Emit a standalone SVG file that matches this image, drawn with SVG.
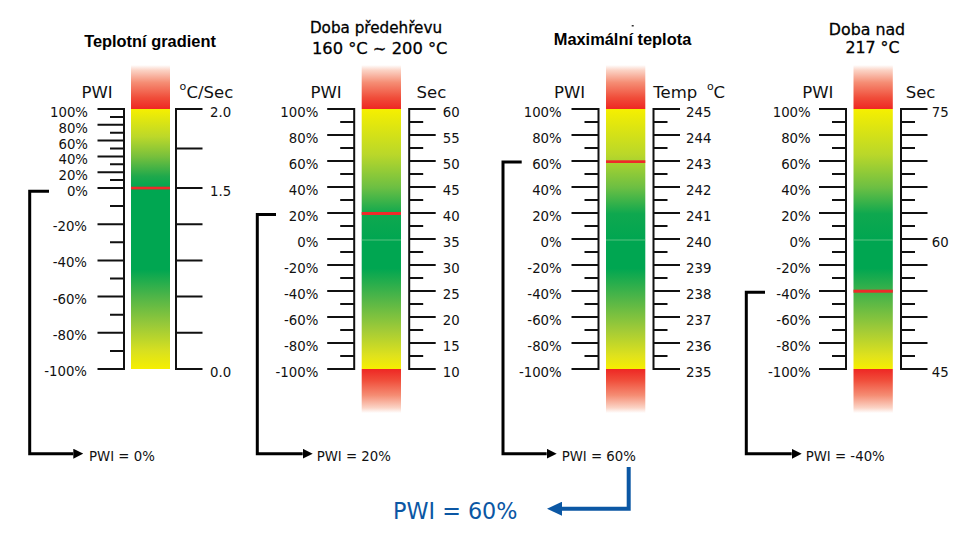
<svg xmlns="http://www.w3.org/2000/svg" xmlns:xlink="http://www.w3.org/1999/xlink" width="976" height="537" viewBox="0 0 976 537">
<style>
.ax{stroke:#111;stroke-width:2;fill:none;stroke-linecap:square}
.lab{font-family:"DejaVu Sans",sans-serif;font-size:13.3px;fill:#111}
.end{text-anchor:end}
.hd{font-family:"DejaVu Sans",sans-serif;font-size:16.5px;fill:#111}
.sup{font-family:"DejaVu Sans",sans-serif;font-size:11px;fill:#111}
.ttl{font-family:"Liberation Sans",Arial,sans-serif;font-weight:bold;font-size:16.4px;text-anchor:middle;fill:#000}
.ttl2{font-family:"DejaVu Sans",sans-serif;text-anchor:middle;fill:#000;stroke:#000;stroke-width:0.3}
.con{stroke:#000;stroke-width:3;fill:none}
.mk{fill:#ee2a2a}
.blue{font-family:"DejaVu Sans",sans-serif;font-size:22.3px;fill:#0b57a4}
</style>
<defs>
<linearGradient id="redTop" x1="0" y1="0" x2="0" y2="1">
<stop offset="0" stop-color="#ffffff"/>
<stop offset="0.12" stop-color="#fbd3c5"/>
<stop offset="0.4" stop-color="#f58d74"/>
<stop offset="0.75" stop-color="#f04c39"/>
<stop offset="1" stop-color="#ee2724"/>
</linearGradient>
<linearGradient id="redBot" x1="0" y1="0" x2="0" y2="1">
<stop offset="0" stop-color="#ee2724"/>
<stop offset="0.25" stop-color="#f04c39"/>
<stop offset="0.6" stop-color="#f58d74"/>
<stop offset="0.88" stop-color="#fbd3c5"/>
<stop offset="1" stop-color="#ffffff"/>
</linearGradient>
<linearGradient id="gTop" x1="0" y1="0" x2="0" y2="1">
<stop offset="0" stop-color="#f6ef00"/>
<stop offset="0.35" stop-color="#b9d72a"/>
<stop offset="0.6" stop-color="#6cbf43"/>
<stop offset="0.8" stop-color="#0fa84f"/>
<stop offset="1" stop-color="#00a651"/>
</linearGradient>
<linearGradient id="gBot" x1="0" y1="0" x2="0" y2="1">
<stop offset="0" stop-color="#00a651"/>
<stop offset="0.22" stop-color="#00a651"/>
<stop offset="0.45" stop-color="#4fb548"/>
<stop offset="0.7" stop-color="#a2cb37"/>
<stop offset="0.9" stop-color="#e0e21c"/>
<stop offset="1" stop-color="#f6ef00"/>
</linearGradient>
<linearGradient id="g1Top" x1="0" y1="0" x2="0" y2="1">
<stop offset="0" stop-color="#f6ef00"/>
<stop offset="0.35" stop-color="#bcd82a"/>
<stop offset="0.6" stop-color="#78c03c"/>
<stop offset="0.85" stop-color="#20a94c"/>
<stop offset="1" stop-color="#00a651"/>
</linearGradient>
<linearGradient id="g1Bot" x1="0" y1="0" x2="0" y2="1">
<stop offset="0" stop-color="#00a651"/>
<stop offset="0.45" stop-color="#00a651"/>
<stop offset="0.6" stop-color="#4fb548"/>
<stop offset="0.75" stop-color="#96c83a"/>
<stop offset="0.9" stop-color="#d8e020"/>
<stop offset="1" stop-color="#f6ef00"/>
</linearGradient>
<marker id="arrowK" viewBox="0 0 10 10" refX="0" refY="5" markerWidth="10" markerHeight="10" markerUnits="userSpaceOnUse" orient="auto">
<path d="M0 0L10 5L0 10z" fill="#000"/>
</marker>
<marker id="arrowB" viewBox="0 0 15 14" refX="0" refY="7" markerWidth="15" markerHeight="14" markerUnits="userSpaceOnUse" orient="auto">
<path d="M0 0L15 7L0 14z" fill="#0b57a4"/>
</marker>
<g id="gauge">
<rect x="0" y="65" width="39.3" height="44" fill="url(#redTop)"/>
<rect x="0" y="109" width="39.3" height="131" fill="url(#gTop)"/>
<rect x="0" y="240" width="39.3" height="129" fill="url(#gBot)"/>
<rect x="0" y="239.5" width="39.3" height="1" fill="#7ccf95" opacity="0.7"/>
<rect x="0" y="369" width="39.3" height="44" fill="url(#redBot)"/>
<path class="ax" d="M-7.5 109V369M-33.5 109H-7.5M-33.5 135H-7.5M-33.5 161H-7.5M-33.5 187H-7.5M-33.5 213H-7.5M-33.5 239H-7.5M-33.5 265H-7.5M-33.5 291H-7.5M-33.5 317H-7.5M-33.5 343H-7.5M-33.5 369H-7.5M-20.5 122H-7.5M-20.5 148H-7.5M-20.5 174H-7.5M-20.5 200H-7.5M-20.5 226H-7.5M-20.5 252H-7.5M-20.5 278H-7.5M-20.5 304H-7.5M-20.5 330H-7.5M-20.5 356H-7.5"/>
<path class="ax" d="M47.5 109V369M47.5 109H73M47.5 135H73M47.5 161H73M47.5 187H73M47.5 213H73M47.5 239H73M47.5 265H73M47.5 291H73M47.5 317H73M47.5 343H73M47.5 369H73M47.5 122H60.5M47.5 148H60.5M47.5 174H60.5M47.5 200H60.5M47.5 226H60.5M47.5 252H60.5M47.5 278H60.5M47.5 304H60.5M47.5 330H60.5M47.5 356H60.5"/>
</g>
<g id="pwiLabels" class="lab end">
<text x="0" y="117">100%</text>
<text x="0" y="143">80%</text>
<text x="0" y="169">60%</text>
<text x="0" y="195">40%</text>
<text x="0" y="221">20%</text>
<text x="0" y="247">0%</text>
<text x="0" y="273">-20%</text>
<text x="0" y="299">-40%</text>
<text x="0" y="325">-60%</text>
<text x="0" y="351">-80%</text>
<text x="0" y="377">-100%</text>
</g>
</defs>
<rect width="976" height="537" fill="#fff"/>

<g id="panel-gradient">
<text class="ttl" x="150" y="47">Teplotní gradient</text>
<text class="hd" x="81.5" y="98">PWI</text>
<text class="sup" x="179.5" y="90">o</text>
<text class="hd" x="186.5" y="98">C/Sec</text>
<rect x="131" y="65" width="39" height="44" fill="url(#redTop)"/>
<rect x="131" y="109" width="39" height="79" fill="url(#g1Top)"/>
<rect x="131" y="188" width="39" height="181" fill="url(#g1Bot)"/>
<rect class="mk" x="131" y="186.7" width="39" height="2.7"/>
<path class="ax" d="M124 109V369M98.5 109H124M98.5 124.8H124M98.5 140.6H124M98.5 156.4H124M98.5 172.2H124M98.5 188H124M98.5 224.2H124M98.5 260.4H124M98.5 296.6H124M98.5 332.8H124M98.5 369H124M111 116.9H124M111 132.7H124M111 148.5H124M111 164.3H124M111 180.1H124M111 206.1H124M111 242.3H124M111 278.5H124M111 314.7H124M111 350.9H124"/>
<path class="ax" d="M176 109V369M176 109H201.5M176 148.5H201.5M176 188H201.5M176 224.2H201.5M176 260.4H201.5M176 296.6H201.5M176 332.8H201.5M176 369H201.5"/>
<g class="lab end">
<text x="88" y="117">100%</text>
<text x="88" y="132.8">80%</text>
<text x="88" y="148.6">60%</text>
<text x="88" y="164.4">40%</text>
<text x="88" y="180.2">20%</text>
<text x="88" y="196">0%</text>
<text x="87" y="231.2">-20%</text>
<text x="87" y="267.4">-40%</text>
<text x="87" y="303.6">-60%</text>
<text x="87" y="339.8">-80%</text>
<text x="87" y="376">-100%</text>
</g>
<g class="lab">
<text x="210" y="117">2.0</text>
<text x="210" y="195.5">1.5</text>
<text x="210" y="376.5">0.0</text>
</g>
<text class="lab" x="89" y="461">PWI = 0%</text>
</g>

<g id="panel-predehrev">
<text class="ttl2" x="376" y="33" font-size="15.2">Doba předehřevu</text>
<text class="ttl2" x="379.7" y="54.3" font-size="16.3">160 °C ~ 200 °C</text>
<text class="hd" x="310.5" y="98">PWI</text>
<text class="hd" x="416.5" y="98">Sec</text>
<use href="#gauge" xlink:href="#gauge" x="361.7"/>
<rect class="mk" x="361.7" y="212" width="39.3" height="3"/>
<use href="#pwiLabels" xlink:href="#pwiLabels" x="318.3"/>
<g class="lab">
<text x="442.7" y="117">60</text>
<text x="442.7" y="143">55</text>
<text x="442.7" y="169">50</text>
<text x="442.7" y="195">45</text>
<text x="442.7" y="221">40</text>
<text x="442.7" y="247">35</text>
<text x="442.7" y="273">30</text>
<text x="442.7" y="299">25</text>
<text x="442.7" y="325">20</text>
<text x="442.7" y="351">15</text>
<text x="442.7" y="377">10</text>
</g>
<text class="lab" x="316.7" y="461">PWI = 20%</text>
</g>

<g id="panel-max">
<rect x="631.7" y="25" width="2" height="1.5" fill="#333"/>
<text class="ttl" x="622.5" y="45">Maximální teplota</text>
<text class="hd" x="554" y="98">PWI</text>
<text class="hd" x="653.3" y="98" font-size="15.5">Temp</text>
<text class="sup" x="707" y="90">o</text>
<text class="hd" x="713.5" y="98">C</text>
<use href="#gauge" xlink:href="#gauge" x="606"/>
<rect class="mk" x="606" y="160.3" width="39.3" height="2.7"/>
<use href="#pwiLabels" xlink:href="#pwiLabels" x="561.7"/>
<g class="lab">
<text x="686" y="117">245</text>
<text x="686" y="143">244</text>
<text x="686" y="169">243</text>
<text x="686" y="195">242</text>
<text x="686" y="221">241</text>
<text x="686" y="247">240</text>
<text x="686" y="273">239</text>
<text x="686" y="299">238</text>
<text x="686" y="325">237</text>
<text x="686" y="351">236</text>
<text x="686" y="377">235</text>
</g>
<text class="lab" x="561.7" y="461">PWI = 60%</text>
</g>

<g id="panel-nad">
<text class="ttl2" x="867" y="35" font-size="15.8">Doba nad</text>
<text class="ttl2" x="872.5" y="53.3" font-size="15.8">217 °C</text>
<text class="hd" x="802.3" y="98">PWI</text>
<text class="hd" x="905.7" y="98">Sec</text>
<use href="#gauge" xlink:href="#gauge" x="853.5"/>
<rect class="mk" x="853.5" y="289.7" width="39.3" height="3"/>
<use href="#pwiLabels" xlink:href="#pwiLabels" x="810.7"/>
<g class="lab">
<text x="931.7" y="117">75</text>
<text x="931.7" y="247">60</text>
<text x="931.7" y="377">45</text>
</g>
<text class="lab" x="805.7" y="461">PWI = -40%</text>
</g>

<g id="result">
<text class="blue" x="393" y="518.5">PWI = 60%</text>
</g>

<g id="connectors">
<path class="con" d="M49 191.2H29.7V453.7H73.3" marker-end="url(#arrowK)"/>
<path class="con" d="M276 214.4H257.3V453.7H302.7" marker-end="url(#arrowK)"/>
<path class="con" d="M521.7 162H503V453.7H546.7" marker-end="url(#arrowK)"/>
<path class="con" d="M765 292.3H746.3V453.8H791.7" marker-end="url(#arrowK)"/>
<path d="M628.7 467V508.7H562" fill="none" stroke="#0b57a4" stroke-width="4" marker-end="url(#arrowB)"/>
</g>
</svg>
